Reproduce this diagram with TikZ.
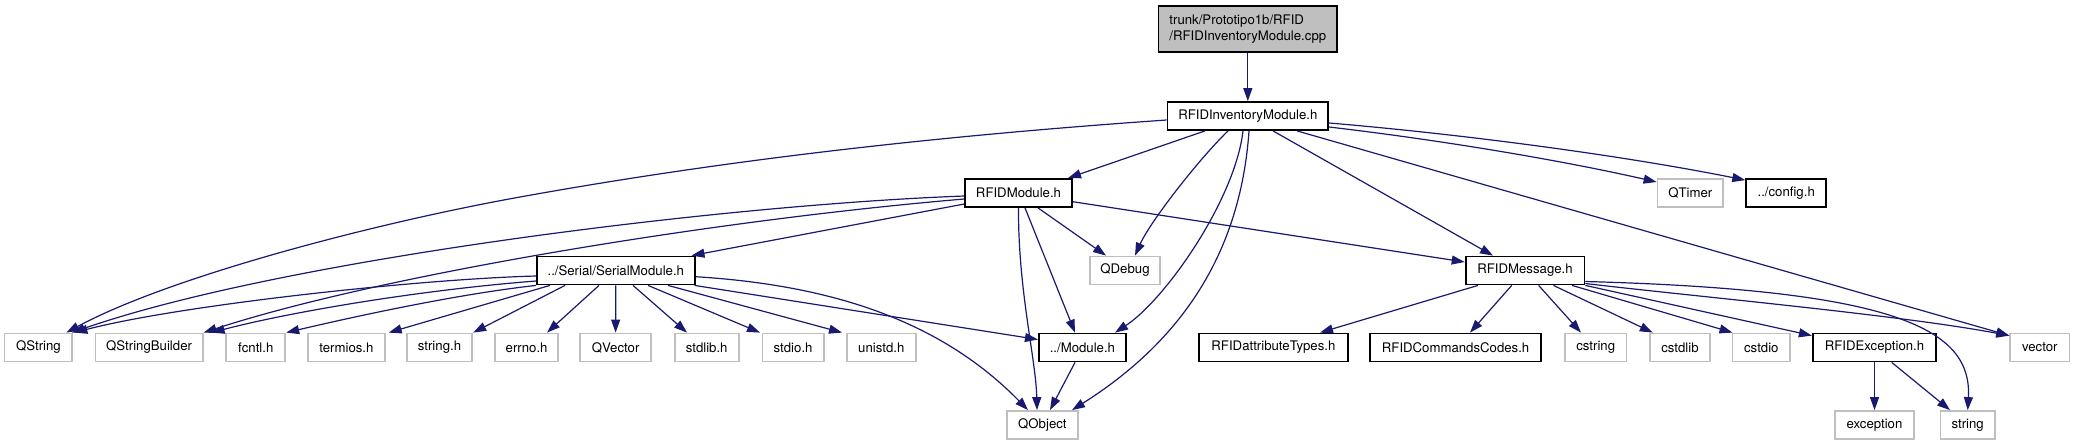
\documentclass[tikz,border=0pt]{standalone}
\usepackage{fontspec}
\newfontfamily\hfont{TeX Gyre Heros}
\usetikzlibrary{arrows.meta}
\definecolor{eblue}{HTML}{191970}
\definecolor{lgray}{HTML}{BFBFBF}
\begin{document}
\begin{tikzpicture}[x=0.5pt,y=-0.5pt,
  nb/.style={draw=black, line width=0.9pt, fill=white, inner sep=0pt,
    minimum height=14pt, font={\hfont\fontsize{6.6}{8}\selectfont}},
  gb/.style={nb, draw=lgray},
  edge/.style={draw=eblue, line width=0.6pt, -{Triangle[length=6.5pt,width=4.5pt]}}]
\useasboundingbox (0,0) rectangle (2075,445);
% nodes
\node[nb, fill=lgray, minimum width=89.25pt, minimum height=23pt, align=left] (cpp) at (1247.8,29) {trunk/Prototipo1b/RFID\\/RFIDInventoryModule.cpp};
\node[nb, minimum width=80.35pt] (rim) at (1247.8,116) {RFIDInventoryModule.h};
\node[nb, minimum width=53.35pt] (rfidmod) at (1018.5,193) {RFIDModule.h};
\node[gb, minimum width=32.8pt] (qtimer) at (1690.3,193) {QTimer};
\node[nb, minimum width=40pt] (config) at (1786.2,193) {../config.h};
\node[nb, minimum width=78.8pt] (serial) at (615.8,270.5) {../Serial/SerialModule.h};
\node[gb, minimum width=35.3pt] (qdebug) at (1125,270.5) {QDebug};
\node[nb, minimum width=59.4pt] (rfidmsg) at (1525,270.5) {RFIDMessage.h};
\node[gb, minimum width=33.9pt] (qstring) at (38.4,347.5) {QString};
\node[gb, minimum width=53.6pt] (qsb) at (149.1,347.5) {QStringBuilder};
\node[gb, minimum width=29.5pt] (fcntl) at (255.8,347.5) {fcntl.h};
\node[gb, minimum width=38.4pt] (termios) at (346.4,347.5) {termios.h};
\node[gb, minimum width=32.8pt] (stringh) at (439.5,347.5) {string.h};
\node[gb, minimum width=31.5pt] (errno) at (526.6,347.5) {errno.h};
\node[gb, minimum width=35.25pt] (qvector) at (615.6,347.5) {QVector};
\node[gb, minimum width=32.1pt] (stdlib) at (706.7,347.5) {stdlib.h};
\node[gb, minimum width=30.6pt] (stdio) at (793.1,347.5) {stdio.h};
\node[gb, minimum width=34.35pt] (unistd) at (881.3,347.5) {unistd.h};
\node[nb, minimum width=43.55pt] (module) at (1082.4,347.5) {../Module.h};
\node[nb, minimum width=74.35pt] (attr) at (1273.4,347.5) {RFIDattributeTypes.h};
\node[nb, minimum width=85.3pt] (cmds) at (1455.6,347.5) {RFIDCommandsCodes.h};
\node[gb, minimum width=30.75pt] (cstring) at (1595.7,347.5) {cstring};
\node[gb, minimum width=30.3pt] (cstdlib) at (1679.9,347.5) {cstdlib};
\node[gb, minimum width=28.9pt] (cstdio) at (1761.3,347.5) {cstdio};
\node[nb, minimum width=61.75pt] (exc) at (1874.5,347.5) {RFIDException.h};
\node[gb, minimum width=29.6pt] (vector) at (2039.8,347.5) {vector};
\node[gb, minimum width=35.3pt] (qobject) at (1042.4,425) {QObject};
\node[gb, minimum width=39.5pt] (exception) at (1874.5,425) {exception};
\node[gb, minimum width=27.3pt] (string) at (1967.7,425) {string};
% edges from cpp / rim
\draw[edge] (cpp) -- (rim);
\draw[edge] ([xshift=-21.4pt]rim.south) -- ([xshift=24.75pt]rfidmod.north);
\draw[edge] ([yshift=-2pt]rim.west) .. controls (951,135) and (736,158) .. (520,197) .. controls (370,224) and (167,278) .. ([xshift=14pt]qstring.north);
\draw[edge] ([xshift=-9.9pt]rim.south) .. controls (1198,160) and (1150,222) .. ([xshift=5pt]qdebug.north);
\draw[edge] ([xshift=-2.4pt]rim.south) .. controls (1235,200) and (1165,300) .. ([xshift=16.3pt]module.north);
\draw[edge] ([xshift=0.6pt]rim.south) .. controls (1240,260) and (1175,345) .. ([xshift=14.8pt]qobject.north);
\draw[edge] ([xshift=12.6pt]rim.south) -- ([xshift=-16pt]rfidmsg.north);
\draw[edge] ([xshift=24.6pt]rim.south) -- ([yshift=-1.5pt]vector.north west);
\draw[edge] ([yshift=-5.5pt]rim.east) .. controls (1440,140) and (1560,160) .. ([yshift=5.5pt]qtimer.west);
\draw[edge] ([yshift=-3.5pt]rim.east) .. controls (1460,134) and (1620,155) .. ([yshift=-1pt]config.north west);
% edges from RFIDModule.h
\draw[edge] ([yshift=-1.5pt]rfidmod.west) .. controls (720,205) and (280,260) .. ([xshift=16.8pt]qstring.north);
\draw[edge] ([yshift=-3pt]rfidmod.west) .. controls (715,220) and (380,275) .. (qsb.north east);
\draw[edge] ([yshift=-5.5pt]rfidmod.west) -- ([xshift=-2pt]serial.north east);
\draw[edge] (rfidmod.south) .. controls (1018,290) and (1036,360) .. ([xshift=-2.7pt]qobject.north);
\draw[edge] ([xshift=3.25pt]rfidmod.south) -- ([xshift=-3.7pt]module.north);
\draw[edge] ([xshift=9.75pt]rfidmod.south) -- ([xshift=-9.5pt]qdebug.north);
\draw[edge] ([yshift=-4.35pt]rfidmod.east) -- ([yshift=4.25pt]rfidmsg.west);
% edges from SerialModule.h
\draw[edge] ([yshift=-2.75pt]serial.west) .. controls (420,279) and (180,305) .. ([xshift=18pt]qstring.north);
\draw[edge] ([yshift=-5.25pt]serial.west) .. controls (420,290) and (290,312) .. ([xshift=4pt]qsb.north east);
\draw[edge] (serial.south west) .. controls (450,295) and (340,320) .. (fcntl.north east);
\draw[edge] ([xshift=-32.9pt]serial.south) -- ([xshift=1.5pt]termios.north east);
\draw[edge] ([xshift=-25.4pt]serial.south) -- (stringh.north east);
\draw[edge] ([xshift=-8.4pt]serial.south) -- ([xshift=10.2pt]errno.north);
\draw[edge] (serial.south) -- (qvector.north);
\draw[edge] ([xshift=8.6pt]serial.south) -- ([xshift=-9.85pt]stdlib.north);
\draw[edge] ([xshift=16.1pt]serial.south) -- ([xshift=-16.55pt]stdio.north);
\draw[edge] ([xshift=26.1pt]serial.south) -- ([xshift=-19.65pt]unistd.north);
\draw[edge] ([xshift=-0.5pt]serial.south east) -- ([yshift=4pt]module.west);
\draw[edge] ([yshift=-3.1pt]serial.east) .. controls (830,285) and (940,320) .. ([xshift=-7.2pt]qobject.north);
\draw[edge] ([xshift=-3.7pt]module.south) -- ([xshift=3.8pt]qobject.north);
% edges from RFIDMessage.h
\draw[edge] ([xshift=-23.5pt]rfidmsg.south) -- ([xshift=23.3pt]attr.north);
\draw[edge] ([xshift=-6.65pt]rfidmsg.south) -- ([xshift=7.2pt]cmds.north);
\draw[edge] ([xshift=6.8pt]rfidmsg.south) -- ([xshift=-7.35pt]cstring.north);
\draw[edge] ([xshift=14.2pt]rfidmsg.south) -- ([xshift=-13.55pt]cstdlib.north);
\draw[edge] ([xshift=23.5pt]rfidmsg.south) -- ([xshift=0.5pt]cstdio.north west);
\draw[edge] (rfidmsg.south east) -- ([yshift=-1.5pt]exc.north west);
\draw[edge] ([yshift=-5.5pt]rfidmsg.east) .. controls (1900,290) and (1972,330) .. (string.north);
\draw[edge] ([yshift=-6.5pt]rfidmsg.east) .. controls (1700,297) and (1900,315) .. ([yshift=-1.5pt]vector.north west);
% edges from RFIDException.h
\draw[edge] (exc.south) -- (exception.north);
\draw[edge] ([xshift=8.6pt]exc.south) -- ([xshift=-8.85pt]string.north);
\end{tikzpicture}
\end{document}
